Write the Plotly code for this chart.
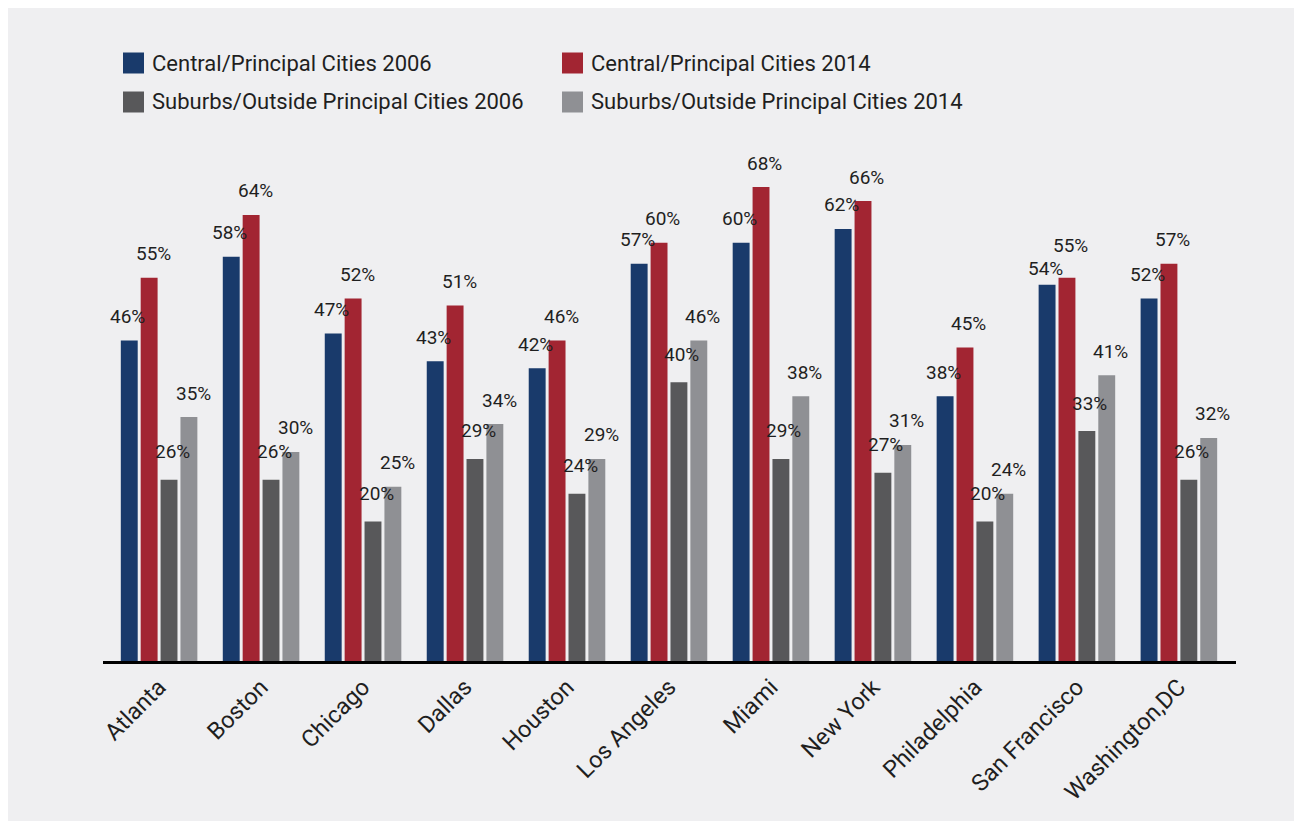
import plotly.graph_objects as go

cities = ["Atlanta", "Boston", "Chicago", "Dallas", "Houston", "Los Angeles",
          "Miami", "New York", "Philadelphia", "San Francisco", "Washington,DC"]
central_2006 = [46, 58, 47, 43, 42, 57, 60, 62, 38, 54, 52]
central_2014 = [55, 64, 52, 51, 46, 60, 68, 66, 45, 55, 57]
suburbs_2006 = [26, 26, 20, 29, 24, 40, 29, 27, 20, 33, 26]
suburbs_2014 = [35, 30, 25, 34, 29, 46, 38, 31, 24, 41, 32]
series_names = ["Central/Principal Cities 2006", "Central/Principal Cities 2014",
                "Suburbs/Outside Principal Cities 2006", "Suburbs/Outside Principal Cities 2014"]
series_values = [central_2006, central_2014, suburbs_2006, suburbs_2014]
colors = ["#193a6b", "#a22532", "#58585a", "#8f9094"]

# page has an 8px body margin; figure sized so it fills the 1302x828 window
OFF = 8
W, H = 1302 - OFF, 828 - OFF
ML, MT = 103 - OFF, 100 - OFF
PW, PH = 1133, 561
MR = W - ML - PW
MB = H - MT - PH
FONT = "Roboto"
TXT = "#1f1f1f"


def px_x(px):  # window px -> paper
    return (px - OFF - ML) / PW


def px_y(py):
    return (MT + PH - (py - OFF)) / PH


fig = go.Figure()
for name, vals, col in zip(series_names, series_values, colors):
    fig.add_trace(go.Bar(x=cities, y=vals, name=name, marker_color=col,
                         marker_line_width=0, showlegend=False))

# value labels above the bars
slot_shift = [-31.5, -10.5, 10.5, 31.5]
label_dx = [0, 4.5, 2.5, 2.5]
label_dy = [24, 24, 28, 24]
# a few labels sit at different heights in the original to avoid collisions
label_dy_override = {("San Francisco", 0): 16, ("San Francisco", 1): 32}
annotations = []
for k, vals in enumerate(series_values):
    for c, v in zip(cities, vals):
        dy = label_dy_override.get((c, k), label_dy[k])
        annotations.append(dict(x=c, y=v, text=f"{v}%", showarrow=False,
                                xref="x", yref="y", xanchor="center", yanchor="middle",
                                xshift=slot_shift[k] + label_dx[k], yshift=dy,
                                font=dict(family=FONT, size=19, color=TXT)))

# manual legend with large square swatches
legend_pos = [(123, 63), (562, 63), (123, 102), (562, 102)]
shapes = [dict(type="rect", xref="paper", yref="paper", layer="below",
               x0=px_x(6), x1=px_x(1296), y0=px_y(821), y1=px_y(7),
               fillcolor="#efeff1", line_width=0)]
for (lx, ly), name, col in zip(legend_pos, series_names, colors):
    shapes.append(dict(type="rect", xref="paper", yref="paper",
                       x0=px_x(lx), x1=px_x(lx + 21), y0=px_y(ly + 10.5), y1=px_y(ly - 10.5),
                       fillcolor=col, line_width=0))
    annotations.append(dict(x=px_x(lx + 27), y=px_y(ly), xref="paper", yref="paper",
                            text=name, showarrow=False, xanchor="left", yanchor="middle",
                            font=dict(family=FONT, size=22, color=TXT)))

fig.update_layout(
    width=W, height=H,
    margin=dict(l=ML, r=MR, t=MT, b=MB, pad=0),
    paper_bgcolor="white", plot_bgcolor="#efeff1",
    barmode="group", bargap=0.22, bargroupgap=0.15,
    annotations=annotations, shapes=shapes,
    font=dict(family=FONT, color=TXT),
    xaxis=dict(range=[-0.55, 10.56], showline=True, linecolor="black", linewidth=3,
               ticks="", tickangle=-45, tickfont=dict(family=FONT, size=23.5, color=TXT),
               showgrid=False, zeroline=False),
    yaxis=dict(range=[0, 80.5], visible=False, showgrid=False, zeroline=False),
)

fig.write_html("out.html")
